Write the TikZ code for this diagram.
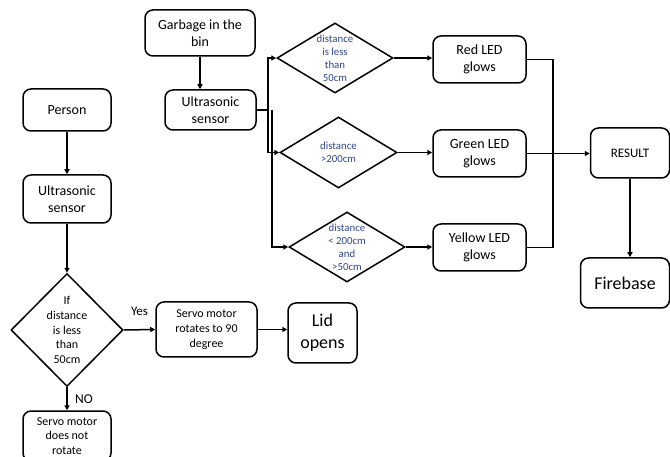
\documentclass[tikz,border=0pt]{standalone}
\usepackage{fontspec}
\setmainfont{Carlito}
\usetikzlibrary{shapes.geometric, arrows.meta, positioning}
\definecolor{blue1}{RGB}{47,69,140}
\definecolor{gray1}{RGB}{0,0,0}

\begin{document}
\begin{tikzpicture}[x=1pt, y=-1pt]

\tikzstyle{box}		=[rectangle, rounded corners=8pt, line width=1.5pt, draw=gray1, align=center, inner sep=1pt, font=\fontsize{14}{17}\selectfont]
\tikzstyle{small}	=[box, font=\fontsize{12}{14.8}\selectfont]
\tikzstyle{big}		=[box, font=\fontsize{18}{22}\selectfont]
\tikzstyle{dec}		=[diamond, line width=1.5pt, draw=gray1, inner sep=0pt]
\tikzstyle{dtext}	=[align=center, text=blue1, font=\fontsize{10.8}{13}\selectfont]
\tikzstyle{ltext}	=[align=center, font=\fontsize{12}{14.6}\selectfont]
\tikzstyle{wire}	=[line width=1.5pt, draw=gray1]
\tikzstyle{connection}	=[wire, -{Triangle[length=5pt, width=5pt]}]

\useasboundingbox (0,0) rectangle (670,457);

% person side
\node[box, minimum width=88, minimum height=42]		(person) at (67,110)	{Person};
\node[box, minimum width=88, minimum height=48]		(us1)	 at (67,199)	{Ultrasonic\\sensor};
\node[dec, minimum width=112, minimum height=113,
	label={[ltext]center:If\\distance\\is less\\than\\50cm}]	(dec1)	 at (67,330)	{};
\node[small, minimum width=101, minimum height=55]	(srv)	 at (206.5,329.5)	{Servo motor\\rotates to 90\\degree};
\node[big, minimum width=69, minimum height=60]		(lid)	 at (322.5,333)	{Lid\\opens};
\node[small, minimum width=88, minimum height=50]	(norot)	 at (67,436)	{Servo motor\\does not\\rotate};

% bin side
\node[box, minimum width=110, minimum height=46]	(gbin)	 at (200,33)	{Garbage in the\\bin};
\node[box, minimum width=91, minimum height=40]		(us2)	 at (210.5,110)	{Ultrasonic\\sensor};

\node[dec, minimum width=116, minimum height=70,
	label={[dtext]center:distance\\is less\\than\\50cm}]	(d1)	 at (335,58)	{};
\node[dec, minimum width=117, minimum height=71,
	label={[dtext]center:distance\\>200cm}]		(d2)	 at (338.5,152.5)	{};
\node[dec, minimum width=116, minimum height=70,
	label={[dtext]center:distance\\< 200cm\\and\\>50cm}]	(d3)	 at (347,247)	{};

\node[box, minimum width=93, minimum height=47]		(ledr)	 at (479.5,59.5)	{Red LED\\glows};
\node[box, minimum width=93, minimum height=47]		(ledg)	 at (479.5,153.5)	{Green LED\\glows};
\node[box, minimum width=93, minimum height=47]		(ledy)	 at (479.5,247.5)	{Yellow LED\\glows};

\node[box, minimum width=79, minimum height=50, font=\fontsize{13}{15}\selectfont]	(res)	 at (630,153)	{RESULT};
\node[big, minimum width=89, minimum height=50]		(fb)	 at (625,283)	{Firebase};

\coordinate (s1) at (268,110);
\coordinate (s2) at (272,110);
\coordinate (jn) at (553,153);

\draw [connection]  (person) -- (us1);
\draw [connection]  (us1) -- (dec1);
\draw [connection]  (dec1.east) -- (srv.west) node[midway, yshift=18pt, font=\fontsize{13}{15}\selectfont] {Yes};
\draw [connection]  (srv.east) -- (srv.east -| lid.west);
\draw [connection]  (dec1.south) -- (norot.north) node[midway, xshift=17pt, font=\fontsize{13.5}{15}\selectfont] {NO};

\draw [connection]  (gbin.south) -- (gbin.south |- us2.north);
\draw [connection]  (us2.east) -- (s1) |- (d1.west);
\draw [connection]  (us2.east) -- (s1) |- (d2.west);
\draw [connection]  (s2) |- (d3.west);

\draw [connection]  (d1.east) -- (d1.east -| ledr.west);
\draw [connection]  (d2.east) -- (d2.east -| ledg.west);
\draw [connection]  (d3.east) -- (d3.east -| ledy.west);

\draw [wire]        (ledr.east) -| (jn);
\draw [wire]        (ledy.east) -| (jn);
\draw [connection]  (ledg.east) -- (ledg.east -| res.west);
\draw [connection]  (res.south) -- (res.south |- fb.north);

\end{tikzpicture}
\end{document}
